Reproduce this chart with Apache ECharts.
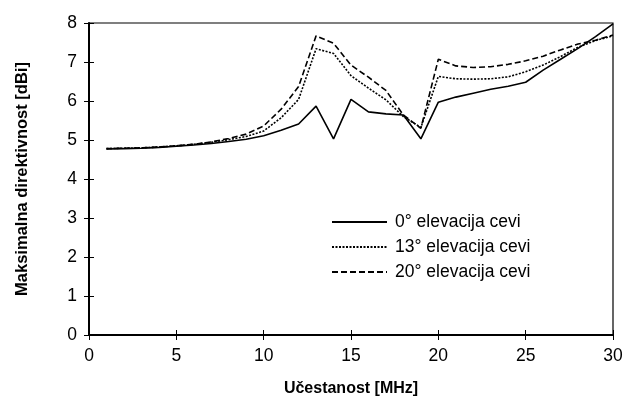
<!DOCTYPE html>
<html>
<head>
<meta charset="utf-8">
<script src="https://cdn.jsdelivr.net/npm/echarts@6/dist/echarts.min.js"></script>
<style>
  html, body { margin: 0; padding: 0; background: #fff; }
  #chart { width: 627px; height: 406px; }
</style>
</head>
<body>
<div id="chart"></div>
<script>
// frequency in MHz
const freq = [1, 2, 3, 4, 5, 6, 7, 8, 9, 10, 11, 12, 13, 14, 15, 16, 17, 18, 19, 20, 21, 22, 23, 24, 25, 26, 27, 28, 29, 30];

// max directivity [dBi] per pipe elevation
const elev0 = [4.77, 4.78, 4.79, 4.81, 4.84, 4.87, 4.91, 4.96, 5.02, 5.11, 5.25, 5.41, 5.87, 5.03, 6.04, 5.72, 5.67, 5.64, 5.03, 5.97, 6.10, 6.20, 6.30, 6.38, 6.48, 6.79, 7.07, 7.35, 7.65, 7.98];
const elev13 = [4.78, 4.79, 4.80, 4.82, 4.85, 4.89, 4.94, 5.01, 5.09, 5.23, 5.57, 6.04, 7.34, 7.22, 6.65, 6.33, 6.03, 5.60, 5.32, 6.63, 6.57, 6.56, 6.57, 6.62, 6.75, 6.92, 7.14, 7.38, 7.55, 7.67];
const elev20 = [4.78, 4.79, 4.80, 4.82, 4.85, 4.89, 4.95, 5.04, 5.15, 5.36, 5.79, 6.37, 7.67, 7.48, 6.92, 6.61, 6.27, 5.64, 5.30, 7.07, 6.90, 6.86, 6.88, 6.94, 7.03, 7.15, 7.31, 7.46, 7.56, 7.69];

const seriesNames = ["0° elevacija cevi", "13° elevacija cevi", "20° elevacija cevi"];

const font = "Liberation Sans, Arial, sans-serif";

const toPairs = (ys) => freq.map((f, i) => [f, ys[i]]);

const chart = echarts.init(document.getElementById("chart"));

const tickStyle = { inside: true, length: 5, lineStyle: { color: "#000" } };

const option = {
    animation: false,
    grid: {
        left: 89,
        right: 14,
        top: 23,
        bottom: 71,
        show: true,
        borderColor: "#000",
        borderWidth: 1.2,
    },
    legend: {
        data: seriesNames,
        orient: "vertical",
        left: 326,
        top: 208,
        itemWidth: 55,
        itemHeight: 14,
        itemGap: 7,
        itemStyle: { opacity: 0 },
        textStyle: { fontFamily: font, fontSize: 17.5, color: "#000", padding: [0, 0, 0, 3] },
        selectedMode: false,
    },
    xAxis: [
        {
            type: "value",
            min: 0,
            max: 30,
            interval: 5,
            name: "Učestanost [MHz]",
            nameLocation: "middle",
            nameGap: 46,
            nameTextStyle: { fontFamily: font, fontSize: 16, fontWeight: "bold", color: "#000" },
            axisLine: { show: true, onZero: false, lineStyle: { color: "#000", width: 2 } },
            axisTick: tickStyle,
            axisLabel: { fontFamily: font, fontSize: 17.5, color: "#000", margin: 12 },
            splitLine: { show: false },
        },
        {
            type: "value",
            position: "top",
            min: 0,
            max: 30,
            interval: 5,
            axisLine: { show: false },
            axisTick: tickStyle,
            axisLabel: { show: false },
            splitLine: { show: false },
        },
    ],
    yAxis: [
        {
            type: "value",
            min: 0,
            max: 8,
            interval: 1,
            name: "Maksimalna direktivnost [dBi]",
            nameLocation: "middle",
            nameGap: 58,
            nameTextStyle: { fontFamily: font, fontSize: 16.5, fontWeight: "bold", color: "#000" },
            axisLine: { show: true, onZero: false, lineStyle: { color: "#000", width: 2 } },
            axisTick: tickStyle,
            axisLabel: { fontFamily: font, fontSize: 17.5, color: "#000", margin: 12 },
            splitLine: { show: false },
        },
        {
            type: "value",
            position: "right",
            min: 0,
            max: 8,
            interval: 1,
            axisLine: { show: false },
            axisTick: tickStyle,
            axisLabel: { show: false },
            splitLine: { show: false },
        },
    ],
    series: [
        {
            name: seriesNames[0],
            type: "line",
            data: toPairs(elev0),
            symbol: "none",
            color: "#000",
            lineStyle: { color: "#000", width: 1.6, type: "solid" },
        },
        {
            name: seriesNames[1],
            type: "line",
            data: toPairs(elev13),
            symbol: "none",
            color: "#000",
            lineStyle: { color: "#000", width: 1.6, type: [2, 1.5] },
        },
        {
            name: seriesNames[2],
            type: "line",
            data: toPairs(elev20),
            symbol: "none",
            color: "#000",
            lineStyle: { color: "#000", width: 1.6, type: [6, 3] },
        },
    ],
};

chart.setOption(option);
</script>
</body>
</html>
